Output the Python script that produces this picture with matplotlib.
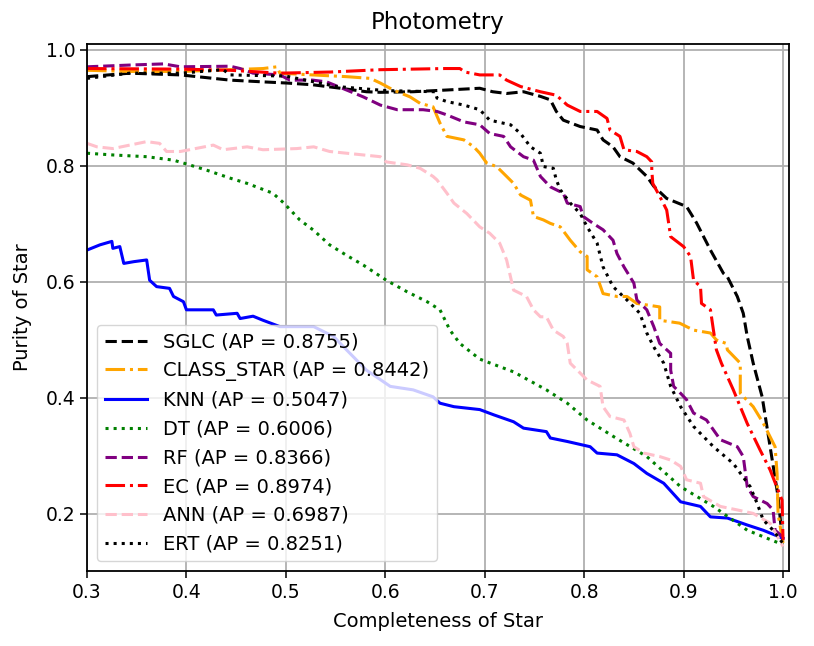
import matplotlib
matplotlib.use("Agg")
import matplotlib.pyplot as plt

# completeness (x) / purity (y)
sglc_x = [0.30, 0.343, 0.394, 0.444, 0.477, 0.501, 0.527, 0.555, 0.581, 0.595, 0.628, 0.662, 0.695, 0.708,
          0.722, 0.739, 0.756, 0.766, 0.772, 0.779, 0.796, 0.813, 0.819, 0.829, 0.836, 0.849, 0.863, 0.870,
          0.883, 0.903, 0.913, 0.927, 0.940, 0.944, 0.954, 0.960, 0.964, 0.970, 0.979, 0.987, 0.995, 0.999, 1.0]
sglc_y = [0.954, 0.960, 0.957, 0.948, 0.945, 0.943, 0.940, 0.934, 0.928, 0.927, 0.928, 0.931, 0.934, 0.928,
          0.925, 0.928, 0.920, 0.914, 0.894, 0.879, 0.868, 0.862, 0.845, 0.833, 0.816, 0.805, 0.782, 0.765,
          0.744, 0.730, 0.702, 0.655, 0.615, 0.609, 0.575, 0.546, 0.506, 0.460, 0.402, 0.316, 0.230, 0.161, 0.150]

cs_x = [0.30, 0.343, 0.394, 0.444, 0.477, 0.491, 0.494, 0.527, 0.561, 0.585, 0.595, 0.608, 0.625, 0.635,
        0.648, 0.655, 0.662, 0.679, 0.689, 0.695, 0.702, 0.712, 0.722, 0.729, 0.736, 0.746, 0.749, 0.759,
        0.766, 0.776, 0.786, 0.796, 0.803, 0.803, 0.813, 0.819, 0.833, 0.843, 0.853, 0.876, 0.876, 0.896,
        0.910, 0.927, 0.933, 0.943, 0.944, 0.957, 0.957, 0.970, 0.980, 0.992, 0.994, 0.995, 1.0]
cs_y = [0.965, 0.963, 0.963, 0.966, 0.968, 0.971, 0.960, 0.957, 0.954, 0.951, 0.943, 0.931, 0.919, 0.908,
        0.902, 0.874, 0.851, 0.845, 0.833, 0.822, 0.805, 0.799, 0.782, 0.770, 0.750, 0.741, 0.713, 0.707,
        0.701, 0.695, 0.672, 0.652, 0.644, 0.621, 0.609, 0.580, 0.575, 0.575, 0.563, 0.557, 0.534, 0.529,
        0.517, 0.512, 0.500, 0.494, 0.483, 0.460, 0.408, 0.385, 0.357, 0.316, 0.270, 0.200, 0.150]

knn_x = [0.30, 0.313, 0.325, 0.326, 0.333, 0.337, 0.347, 0.360, 0.363, 0.370, 0.383, 0.387, 0.397, 0.400,
         0.427, 0.430, 0.451, 0.454, 0.467, 0.477, 0.494, 0.528, 0.548, 0.561, 0.581, 0.605, 0.628, 0.648,
         0.655, 0.669, 0.695, 0.709, 0.729, 0.739, 0.762, 0.766, 0.783, 0.806, 0.813, 0.833, 0.850, 0.863,
         0.880, 0.897, 0.917, 0.927, 0.944, 0.964, 0.980, 1.0]
knn_y = [0.655, 0.664, 0.670, 0.658, 0.661, 0.632, 0.635, 0.638, 0.603, 0.592, 0.589, 0.575, 0.566, 0.552,
         0.552, 0.543, 0.546, 0.537, 0.541, 0.534, 0.523, 0.523, 0.506, 0.483, 0.448, 0.420, 0.414, 0.402,
         0.391, 0.385, 0.380, 0.371, 0.359, 0.348, 0.342, 0.331, 0.325, 0.316, 0.305, 0.302, 0.287, 0.270,
         0.253, 0.221, 0.213, 0.195, 0.193, 0.181, 0.172, 0.158]

dt_x = [0.30, 0.326, 0.360, 0.387, 0.397, 0.420, 0.444, 0.461, 0.487, 0.498, 0.514, 0.528, 0.544, 0.561,
        0.578, 0.601, 0.622, 0.642, 0.655, 0.665, 0.675, 0.695, 0.729, 0.762, 0.783, 0.803, 0.830, 0.863,
        0.897, 0.930, 0.964, 1.0]
dt_y = [0.822, 0.819, 0.816, 0.810, 0.805, 0.793, 0.779, 0.770, 0.753, 0.736, 0.707, 0.689, 0.664, 0.646,
        0.629, 0.603, 0.583, 0.566, 0.552, 0.517, 0.494, 0.467, 0.445, 0.414, 0.391, 0.362, 0.333, 0.299,
        0.247, 0.213, 0.172, 0.147]

rf_x = [0.30, 0.343, 0.377, 0.394, 0.444, 0.454, 0.467, 0.494, 0.504, 0.527, 0.541, 0.561, 0.578, 0.595,
        0.612, 0.638, 0.652, 0.662, 0.679, 0.695, 0.705, 0.719, 0.726, 0.739, 0.749, 0.756, 0.766, 0.779,
        0.783, 0.796, 0.799, 0.809, 0.819, 0.829, 0.833, 0.840, 0.850, 0.853, 0.863, 0.870, 0.876, 0.887,
        0.887, 0.890, 0.897, 0.903, 0.910, 0.923, 0.937, 0.954, 0.960, 0.964, 0.970, 0.984, 0.990, 0.992, 1.0]
rf_y = [0.971, 0.974, 0.976, 0.971, 0.972, 0.968, 0.960, 0.957, 0.948, 0.948, 0.945, 0.931, 0.919, 0.905,
        0.897, 0.897, 0.894, 0.888, 0.876, 0.871, 0.856, 0.851, 0.833, 0.816, 0.810, 0.782, 0.764, 0.753,
        0.736, 0.730, 0.713, 0.701, 0.690, 0.672, 0.649, 0.626, 0.598, 0.569, 0.552, 0.523, 0.494, 0.477,
        0.448, 0.420, 0.408, 0.397, 0.374, 0.362, 0.328, 0.316, 0.299, 0.247, 0.230, 0.218, 0.207, 0.172, 0.160]

ec_x = [0.30, 0.394, 0.444, 0.494, 0.545, 0.595, 0.660, 0.675, 0.680, 0.695, 0.715, 0.722, 0.736, 0.756,
        0.772, 0.783, 0.796, 0.813, 0.823, 0.826, 0.836, 0.840, 0.853, 0.863, 0.868, 0.868, 0.869, 0.878,
        0.883, 0.887, 0.900, 0.907, 0.910, 0.917, 0.918, 0.927, 0.930, 0.933, 0.938, 0.950, 0.964, 0.977,
        0.987, 0.995, 0.999, 1.0]
ec_y = [0.968, 0.967, 0.965, 0.960, 0.962, 0.966, 0.968, 0.968, 0.962, 0.957, 0.957, 0.948, 0.937, 0.928,
        0.922, 0.905, 0.894, 0.894, 0.882, 0.862, 0.851, 0.828, 0.825, 0.816, 0.807, 0.793, 0.770, 0.741,
        0.724, 0.678, 0.661, 0.644, 0.603, 0.592, 0.563, 0.552, 0.517, 0.483, 0.460, 0.414, 0.356, 0.310,
        0.276, 0.241, 0.224, 0.155]

ann_x = [0.30, 0.310, 0.326, 0.360, 0.373, 0.380, 0.394, 0.427, 0.437, 0.461, 0.477, 0.511, 0.528, 0.544,
         0.578, 0.595, 0.601, 0.622, 0.635, 0.648, 0.652, 0.662, 0.669, 0.682, 0.695, 0.705, 0.715, 0.722,
         0.729, 0.742, 0.749, 0.756, 0.762, 0.769, 0.779, 0.783, 0.786, 0.803, 0.816, 0.819, 0.826, 0.840,
         0.846, 0.850, 0.860, 0.876, 0.887, 0.897, 0.903, 0.917, 0.920, 0.937, 0.954, 0.970, 0.987, 1.0]
ann_y = [0.839, 0.833, 0.830, 0.842, 0.839, 0.825, 0.825, 0.836, 0.828, 0.833, 0.828, 0.830, 0.833, 0.825,
         0.819, 0.816, 0.807, 0.802, 0.796, 0.782, 0.776, 0.753, 0.736, 0.718, 0.695, 0.684, 0.667, 0.638,
         0.586, 0.575, 0.552, 0.540, 0.540, 0.517, 0.506, 0.494, 0.460, 0.431, 0.420, 0.385, 0.368, 0.362,
         0.339, 0.316, 0.305, 0.299, 0.293, 0.282, 0.259, 0.253, 0.230, 0.213, 0.207, 0.201, 0.184, 0.144]

ert_x = [0.30, 0.343, 0.394, 0.437, 0.444, 0.500, 0.551, 0.600, 0.650, 0.652, 0.662, 0.679, 0.695, 0.705,
         0.726, 0.736, 0.746, 0.756, 0.759, 0.769, 0.772, 0.776, 0.786, 0.796, 0.803, 0.813, 0.819, 0.829,
         0.843, 0.856, 0.863, 0.870, 0.880, 0.887, 0.897, 0.910, 0.930, 0.950, 0.967, 0.974, 0.980, 0.990, 1.0]
ert_y = [0.951, 0.960, 0.960, 0.966, 0.957, 0.955, 0.937, 0.930, 0.928, 0.917, 0.911, 0.905, 0.897, 0.879,
         0.871, 0.856, 0.833, 0.822, 0.799, 0.796, 0.776, 0.759, 0.736, 0.718, 0.695, 0.667, 0.626, 0.592,
         0.569, 0.546, 0.512, 0.488, 0.460, 0.420, 0.385, 0.351, 0.316, 0.287, 0.247, 0.218, 0.190, 0.172, 0.149]

labels = ['SGLC (AP = 0.8755)', 'CLASS_STAR (AP = 0.8442)', 'KNN (AP = 0.5047)', 'DT (AP = 0.6006)',
          'RF (AP = 0.8366)', 'EC (AP = 0.8974)', 'ANN (AP = 0.6987)', 'ERT (AP = 0.8251)']

fig = plt.figure(figsize=(8.14, 6.46), dpi=100)
ax = fig.add_axes([87 / 814, 1 - 571 / 646, (789 - 87) / 814, (571 - 44) / 646])

lw = 2.2
ax.plot(sglc_x, sglc_y, color='black', linestyle='--', lw=lw, label=labels[0])
ax.plot(cs_x, cs_y, color='orange', linestyle='-.', lw=lw, label=labels[1])
ax.plot(knn_x, knn_y, color='blue', linestyle='-', lw=lw, label=labels[2])
ax.plot(dt_x, dt_y, color='green', linestyle=':', lw=lw, label=labels[3])
ax.plot(rf_x, rf_y, color='purple', linestyle='--', lw=lw, label=labels[4])
ax.plot(ec_x, ec_y, color='red', linestyle='-.', lw=lw, label=labels[5])
ax.plot(ann_x, ann_y, color='pink', linestyle='--', lw=lw, label=labels[6])
ax.plot(ert_x, ert_y, color='black', linestyle=':', lw=lw, label=labels[7])

ax.set_xlim(0.3, 1.006)
ax.set_ylim(0.1017, 1.0103)
ax.set_xticks([0.3, 0.4, 0.5, 0.6, 0.7, 0.8, 0.9, 1.0])
ax.set_yticks([0.2, 0.4, 0.6, 0.8, 1.0])
ax.grid(True, color='#b0b0b0', lw=1.3)
ax.set_axisbelow(True)
ax.tick_params(labelsize=13.5, length=5, width=1.1)
for s in ax.spines.values():
    s.set_linewidth(1.3)

ax.set_title('Photometry', fontsize=16.5, pad=11)
ax.set_xlabel('Completeness of Star', fontsize=14, labelpad=7)
ax.set_ylabel('Purity of Star', fontsize=14, labelpad=10)
ax.legend(loc='lower left', fontsize=14, handlelength=2.2, labelspacing=0.5)

fig.savefig('out.png', dpi=100)
